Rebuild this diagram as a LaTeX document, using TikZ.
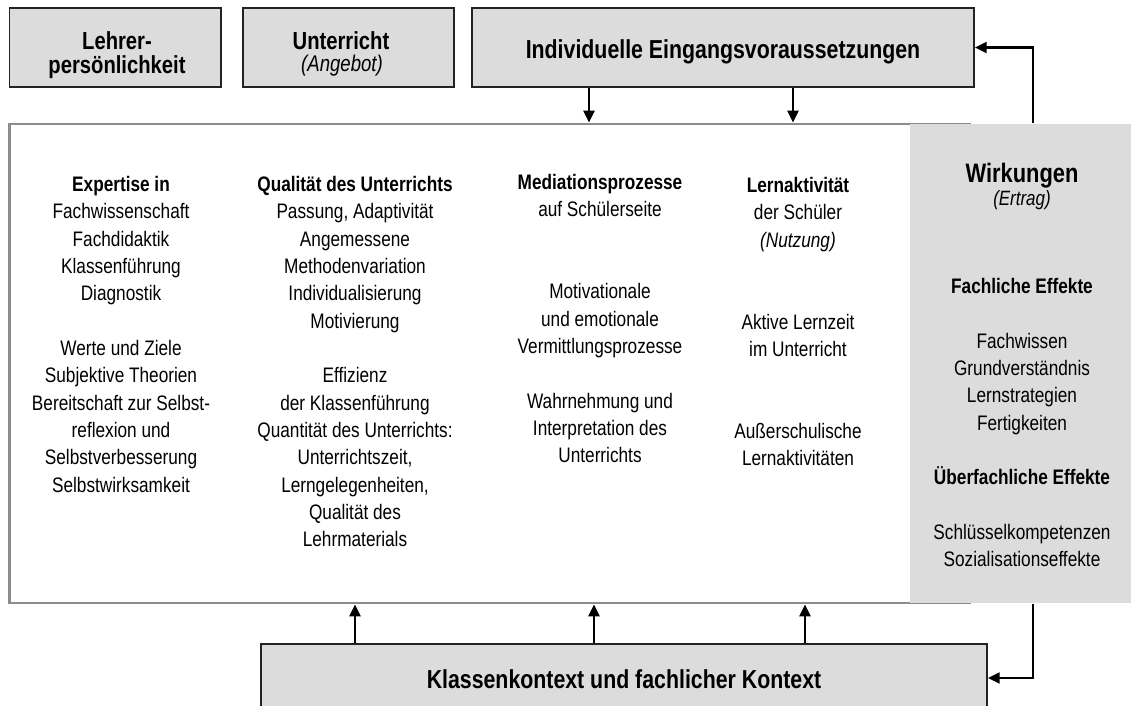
\documentclass[tikz,border=0pt]{standalone}
\usepackage{fontspec}
\setmainfont{Liberation Sans}[FakeStretch=0.82]
\usetikzlibrary{arrows.meta}
\definecolor{boxgray}{RGB}{220,220,220}
\definecolor{framegray}{RGB}{140,140,140}
\definecolor{edgegray}{RGB}{35,35,35}
\newcommand{\colstrut}{\rule{0pt}{16pt}}
\tikzset{every picture/.style={line width=0.75pt}}
\tikzset{
  titlebox/.style={draw=edgegray, fill=boxgray, line width=1.1pt, inner sep=0pt},
  titletext/.style={inner sep=0pt, align=center, font=\fontsize{18.5}{18}\selectfont\bfseries},
  coltext/.style={align=center, inner sep=0pt, font=\fontsize{15.75}{20.5}\selectfont},
  flow/.style={line width=2.2pt, -{Triangle[length=9pt,width=8pt]}},
}

\begin{document}
\begin{tikzpicture}[x=0.75pt,y=0.75pt,yscale=-1,xscale=1]
\useasboundingbox (0,0) rectangle (1131,706);

% Top boxes
\node[titlebox, minimum width=158.6pt, minimum height=59.25pt] (lehrer) at (115.25,47.5) {};
\node[titlebox, minimum width=158.25pt, minimum height=59.25pt] (unterricht) at (348.5,47.5) {};
\node[titlebox, minimum width=376.5pt, minimum height=59.25pt] (ind) at (723,47.5) {};
\node[titletext, anchor=base] (lehrertxt) at (117,74) {Lehrer-\\persönlichkeit};
\node[titletext, anchor=base] (untertxt) at (341,50) {Unterricht};
\node[anchor=base, inner sep=0pt, font=\fontsize{17}{20}\selectfont\itshape] (angebottxt) at (342,72) {(Angebot)};
\node[titletext, anchor=base, font=\fontsize{19.5}{20}\selectfont\bfseries] (indtxt) at (723,59) {Individuelle Eingangsvoraussetzungen};

% Main frame and result panel
\node[draw=framegray, line width=2pt, inner sep=0pt, minimum width=720.4pt, minimum height=359.25pt] (frame) at (489.75,363.5) {};
\node[fill=boxgray, inner sep=0pt, minimum width=165.75pt, minimum height=359.25pt] (wirk) at (1020.5,363.5) {};

% Bottom box
\node[titlebox, minimum width=544.5pt, minimum height=51pt] (klass) at (624,678) {};
\node[titletext, anchor=base, font=\fontsize{19.5}{20}\selectfont\bfseries] (klasstxt) at (624,688) {Klassenkontext und fachlicher Kontext};

% Column texts
\node[coltext, anchor=north] (expertise) at (121,169.7) {\colstrut\textbf{Expertise in}\\Fachwissenschaft\\Fachdidaktik\\Klassenführung\\Diagnostik\\[20.5pt]Werte und Ziele\\Subjektive Theorien\\Bereitschaft zur Selbst-\\reflexion und\\Selbstverbesserung\\Selbstwirksamkeit};
\node[coltext, anchor=north] (qualitaet) at (355,169.7) {\colstrut\textbf{Qualität des Unterrichts}\\Passung, Adaptivität\\Angemessene\\Methodenvariation\\Individualisierung\\Motivierung\\[20.5pt]Effizienz\\der Klassenführung\\Quantität des Unterrichts:\\Unterrichtszeit,\\Lerngelegenheiten,\\Qualität des\\Lehrmaterials};
\node[coltext, anchor=north] (mediation) at (600,167.7) {\colstrut\textbf{Mediationsprozesse}\\auf Schülerseite\\[41pt]Motivationale\\und emotionale\\Vermittlungsprozesse\\[20.5pt]Wahrnehmung und\\Interpretation des\\Unterrichts};
\node[coltext, anchor=north] (lernakt) at (798,170.7) {\colstrut\textbf{Lernaktivität}\\der Schüler\\\textit{(Nutzung)}\\[41pt]Aktive Lernzeit\\im Unterricht\\[41pt]Außerschulische\\Lernaktivitäten};

% Result panel texts
\node[anchor=base, inner sep=0pt, font=\fontsize{20}{22}\selectfont\bfseries] (wtitle) at (1022,182) {Wirkungen};
\node[anchor=base, inner sep=0pt, font=\fontsize{15.5}{18}\selectfont\itshape] (wertrag) at (1022,205) {(Ertrag)};
\node[coltext, anchor=north] (effekte) at (1022,271.7) {\colstrut\textbf{Fachliche Effekte}\\[20.5pt]Fachwissen\\Grundverständnis\\Lernstrategien\\Fertigkeiten\\[20.5pt]\textbf{Überfachliche Effekte}\\[20.5pt]Schlüsselkompetenzen\\Sozialisationseffekte};

% Arrows
\coordinate (d1) at (589,0);
\coordinate (d2) at (793,0);
\coordinate (u1) at (355,0);
\coordinate (u2) at (594,0);
\coordinate (u3) at (805,0);
\coordinate (fb) at (1033,0);
\draw[flow] (ind.south -| d1) -- (frame.north -| d1);
\draw[flow] (ind.south -| d2) -- (frame.north -| d2);
\draw[flow] (klass.north -| u1) -- (frame.south -| u1);
\draw[flow] (klass.north -| u2) -- (frame.south -| u2);
\draw[flow] (klass.north -| u3) -- (frame.south -| u3);
\draw[flow] (wirk.north -| fb) |- (ind.east);
\draw[flow] (wirk.south -| fb) |- (klass.east);

\end{tikzpicture}
\end{document}
